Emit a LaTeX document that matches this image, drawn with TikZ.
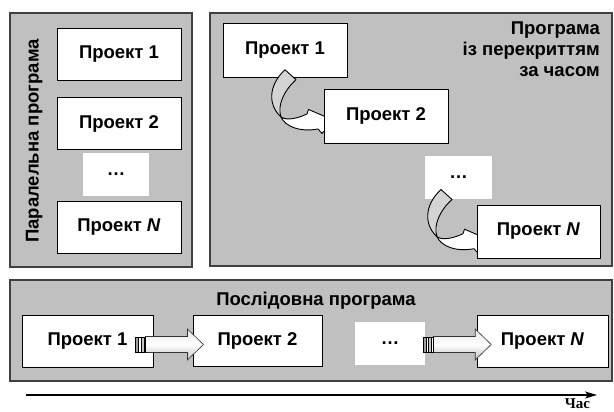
\documentclass[tikz,border=0pt]{standalone}
\usepackage{fontspec}
\setmainfont{Liberation Sans}
\newfontfamily\serifbf{Liberation Serif}
\usetikzlibrary{calc,arrows.meta}
\definecolor{panelgray}{HTML}{C0C0C0}
\definecolor{panelborder}{HTML}{404040}
\definecolor{arrowgray}{HTML}{D4D4D4}
\tikzset{
  panel/.style={draw=panelborder, line width=1.3pt, fill=panelgray},
  proj/.style={draw=black, line width=0.9pt, fill=white, minimum width=124pt, minimum height=52pt, inner sep=0pt, font=\fontsize{18.5}{22}\selectfont\bfseries},
  dotbox/.style={fill=white, minimum width=67pt, minimum height=43pt, inner sep=0pt, font=\fontsize{18.5}{22}\selectfont\bfseries},
  ttl/.style={inner sep=0pt, font=\fontsize{18.5}{22}\selectfont\bfseries},
  curvarrow/.pic={
    \draw[line width=0.9pt, fill=white, line join=round] (-4,40) .. controls (2,44.5) and (15,40.5) .. (22,37) -- (23.5,32.5) -- (49,43.5) -- (37,56.5) -- (33,52) .. controls (15,55.5) and (0,49.5) .. (-4,40) -- cycle;
    \draw[line width=0.9pt, fill=arrowgray, line join=round] (0,-7.2) -- (11,2.8) .. controls (-1,13.5) and (-8,28.5) .. (-4,40) .. controls (-17,28.5) and (-17,8.5) .. (0,-7.2) -- cycle;
  },
  blockarrow/.pic={
    \draw[line width=0.6pt, draw=black!80, top color=gray!20, bottom color=gray!50, middle color=white] (10,-8) -- (52,-8) -- (52,-15.5) -- (68,0) -- (52,15.5) -- (52,8) -- (10,8) -- cycle;
    \draw[line width=0.5pt, fill=gray!75] (0,-7.5) rectangle (3,7.5);
    \draw[line width=0.5pt, fill=white] (3,-7.5) rectangle (5.5,7.5);
    \draw[line width=0.5pt, fill=gray!45] (5.5,-7.5) rectangle (8.5,7.5);
    \draw[line width=0.5pt, fill=white] (8.5,-7.5) rectangle (10,7.5);
  }
}
\begin{document}
\begin{tikzpicture}[x=1pt,y=-1pt]
\useasboundingbox (0,0) rectangle (614,412);
% left panel
\draw[panel] (10,13) rectangle (192,267);
\node[proj] (l1) at (119,54) {Проект 1};
\node[proj] (l2) at (119,123.5) {Проект 2};
\node[dotbox, minimum width=66pt] (ld) at (116,174.5) {…};
\node[proj] (ln) at (119,227.5) {Проект \textit{N}};
\node[ttl, rotate=90, anchor=base] (lt) at (38.5,141) {Паралельна програма};
% right panel
\draw[panel] (210,13) rectangle (612,266);
\node[ttl, anchor=base east] (rt1) at (600,35) {Програма};
\node[ttl, anchor=base east] (rt2) at (600,56) {із перекриттям};
\node[ttl, anchor=base east] (rt3) at (600,77) {за часом};
\node[proj, minimum height=54pt] (r1) at (285,50) {Проект 1};
\pic at ($(r1.south)+(0,-0.5)$) {curvarrow};
\node[proj, minimum height=54pt] (r2) at (386,116) {Проект 2};
\node[dotbox] (rd) at (458.5,177.5) {…};
\pic at ($(rd.south)+(-17.5,-2.5)$) {curvarrow};
\node[proj, minimum width=123pt, minimum height=53pt] (rn) at (538.5,231.5) {Проект \textit{N}};
% bottom panel
\draw[panel] (10,280) rectangle (612,381);
\node[ttl, anchor=base] (bt) at (316,305) {Послідовна програма};
\node[proj, minimum width=131pt] (b1) at (87.5,341) {Проект 1};
\node[proj, minimum width=129pt, minimum height=51pt] (b2) at (257.5,340.5) {Проект 2};
\pic at ($(b1.east)+(-18,3.5)$) {blockarrow};
\node[dotbox, minimum width=70pt] (bd) at (390,343.5) {…};
\node[proj, minimum width=131pt] (bn) at (542.5,341) {Проект \textit{N}};
\pic at ($(bd.east)+(-2,1)$) {blockarrow};
% time axis
\coordinate (t0) at (26,395);
\coordinate (t1) at (597,395);
\draw[line width=1.2pt, -{Stealth[length=12pt,width=7pt,inset=3pt]}] (t0) -- (t1);
\node[inner sep=0pt, anchor=base, font=\serifbf\bfseries\fontsize{15}{17}\selectfont] (tl) at (577.5,408.5) {Час};
\end{tikzpicture}
\end{document}
